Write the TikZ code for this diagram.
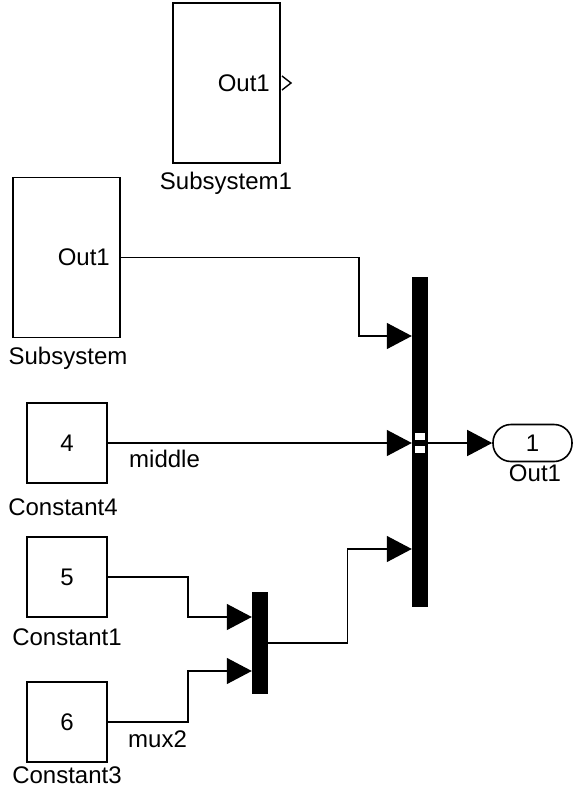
\documentclass[tikz,border=0pt]{standalone}
\usepackage{fontspec}
\setmainfont{Liberation Sans}
\usetikzlibrary{arrows.meta,positioning}

\begin{document}
\begin{tikzpicture}[x=1pt,y=-1pt,
  font=\fontsize{24}{28}\selectfont,
  blk/.style={draw, line width=1.6pt, inner sep=0pt},
  sig/.style={line width=1.4pt},
  arr/.style={sig, -{Triangle[length=25pt,width=26pt]}},
  bar/.style={fill=black, inner sep=0pt, minimum width=16pt},
  txt/.style={inner sep=0pt}]
\useasboundingbox (0,0) rectangle (573,797);

% subsystems
\node[blk, minimum width=107pt, minimum height=160pt] (sub1) at (226.5,83) {};
\node[txt, anchor=east] (sub1out) at (270,83) {Out1};
\draw[line width=1.4pt] (282,76) -- (291,83) -- (282,90);
\node[txt, anchor=base] (sub1lbl) at (226,189) {Subsystem1};

\node[blk, minimum width=107pt, minimum height=160pt] (sub) at (66.5,257.5) {};
\node[txt, anchor=east] (subout) at (110,257.5) {Out1};
\node[txt, anchor=base] (sublbl) at (68,364) {Subsystem};

% constants
\node[blk, minimum size=80pt] (const4) at (67,443) {4};
\node[txt, anchor=base] (const4lbl) at (63,515) {Constant4};
\node[blk, minimum size=80pt] (const1) at (67,577) {5};
\node[txt, anchor=base] (const1lbl) at (67,645) {Constant1};
\node[blk, minimum size=80pt] (const3) at (67,722) {6};
\node[txt, anchor=base] (const3lbl) at (67,783) {Constant3};

% bus creators
\node[bar, minimum height=330pt] (bus) at (420,442) {};
\fill[white] (415,433) rectangle (425,440);
\fill[white] (415,446) rectangle (425,453);
\node[bar, minimum height=102pt] (mux) at (260,643) {};

% outport
\node[blk, rounded corners=18pt, minimum width=79pt, minimum height=37pt] (out1) at (532.5,443) {1};
\node[txt, anchor=base] (out1lbl) at (535,481) {Out1};

% signals
\draw[arr] (sub.east) -- ++(238,0) |- (bus.west |- 0,336);
\draw[arr] (const4.east) -- (bus.west |- const4.east);
\node[txt, anchor=base west] (midlbl) at (129,467) {middle};
\draw[arr] (const1.east) -- ++(80,0) |- (mux.west |- 0,617);
\draw[arr] (const3.east) -- ++(80,0) |- (mux.west |- 0,671);
\node[txt, anchor=base west] (muxlbl) at (128,747) {mux2};
\draw[arr] (mux.east) -- ++(79,0) |- (bus.west |- 0,549);
\draw[arr] (bus.east |- out1.west) -- (out1.west);
\end{tikzpicture}
\end{document}
